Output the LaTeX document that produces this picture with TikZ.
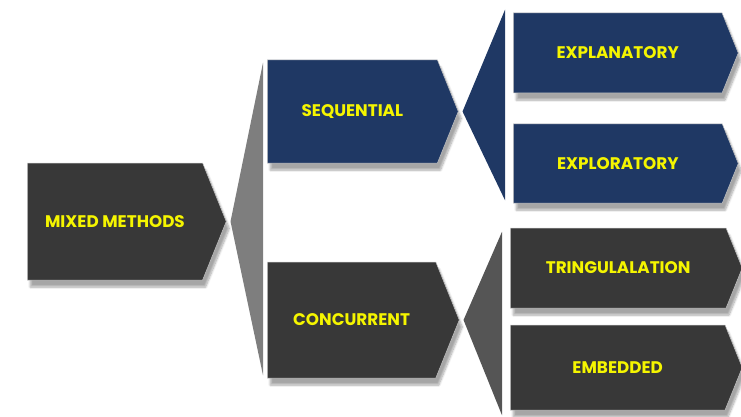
\documentclass[tikz,border=0pt]{standalone}
\usepackage{fontspec}
\setmainfont{Poppins}
\usepackage{tikz}
\usetikzlibrary{shapes.symbols,shadows.blur}
\definecolor{darkbox}{HTML}{383838}
\definecolor{bluebox}{HTML}{1F3864}
\definecolor{labelyellow}{HTML}{F5F500}
\definecolor{fangray}{HTML}{7E7E7E}
\definecolor{fandark}{HTML}{555555}

\begin{document}
\begin{tikzpicture}[x=1pt,y=-1pt,
  box/.style={signal,signal to=east,signal pointer angle=136,inner sep=0pt,anchor=west,
    draw=gray!45,line width=0.5pt,text=labelyellow,font=\fontsize{16.8}{18}\selectfont\bfseries,
    blur shadow={shadow xshift=3pt,shadow yshift=-7pt,shadow blur steps=8,shadow opacity=35}},
  dbox/.style={box,fill=darkbox},
  bbox/.style={box,fill=bluebox}]
  \useasboundingbox (0,0) rectangle (741,417);

  \node [dbox,minimum width=199pt,minimum height=117pt] (MM) at (27,221.5) {MIXED METHODS};
  \node [bbox,minimum width=191pt,minimum height=103pt] (SQ) at (267,111.5) {SEQUENTIAL};
  \node [dbox,minimum width=192pt,minimum height=116pt] (CC) at (267,320) {CONCURRENT};
  \node [bbox,minimum width=225pt,minimum height=80pt] (XN) at (513,53) {EXPLANATORY};
  \node [bbox,minimum width=225pt,minimum height=79pt] (XR) at (513,163.5) {EXPLORATORY};
  \node [dbox,minimum width=232pt,minimum height=80pt] (TR) at (510,268) {TRINGULALATION};
  \node [dbox,minimum width=232pt,minimum height=85pt] (EM) at (510,367.5) {EMBEDDED};

  % fans between the levels
  \fill [fangray] ([xshift=4pt]MM.east) -- ([xshift=-4pt,yshift=-3pt]SQ.north west) -- ([xshift=-4pt,yshift=3pt]CC.south west) -- cycle;
  \fill [bluebox] ([xshift=4pt]SQ.east) -- ([xshift=-8pt,yshift=3pt]XN.north west) -- ([xshift=-8pt,yshift=3pt]XR.south west) -- cycle;
  \fill [fandark] ([xshift=4pt]CC.east) -- ([xshift=-8pt,yshift=-4pt]TR.north west) -- ([xshift=-8pt,yshift=-5pt]EM.south west) -- cycle;
\end{tikzpicture}
\end{document}
